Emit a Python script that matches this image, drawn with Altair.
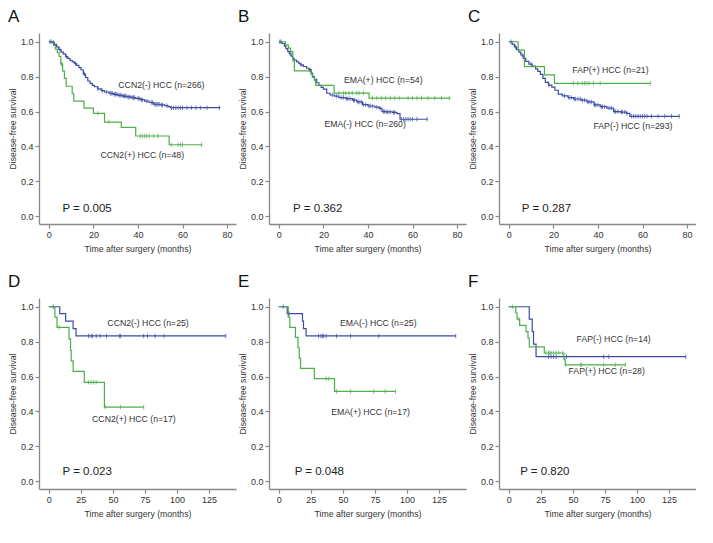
import altair as alt
import pandas as pd

BLUE = "#3B4CA5"
GREEN = "#4DAE4A"
FONT = "Liberation Sans"

# ---------------- Panel A: CCN2 (cohort 1) ----------------
A_neg_t = [0, 1.5, 2.5, 3.5, 4.5, 5.5, 6.5, 7.5, 8.5, 9.5, 10.5, 11.5, 12.5, 13.5, 14.5, 15.5, 16.5, 17.5, 18.5,
           19.5, 20.5, 22, 23.5, 25, 27, 29, 31, 33, 35, 37, 39, 41, 43, 45, 47, 50, 52, 53.5, 54.5, 77]
A_neg_s = [1.0, 0.996, 0.985, 0.97, 0.955, 0.94, 0.93, 0.915, 0.905, 0.893, 0.885, 0.875, 0.865, 0.852, 0.838,
           0.815, 0.795, 0.775, 0.762, 0.75, 0.742, 0.73, 0.72, 0.712, 0.705, 0.699, 0.693, 0.689, 0.684, 0.68,
           0.675, 0.668, 0.66, 0.652, 0.642, 0.638, 0.634, 0.628, 0.622, 0.622]
A_neg_c = [0.5, 1, 2, 5, 8, 12, 16, 22, 24, 26, 27.5, 28, 28.5, 29.5, 30, 30.5, 31.5, 32, 32.5, 33.5, 34, 34.5,
           35.5, 36, 36.5, 37.5, 38, 38.5, 40, 40.5, 41.5, 42, 44, 46, 46.5, 47.5, 48, 48.5, 49, 49.5, 50.5, 51,
           53, 55, 56, 57, 58, 59, 60, 62, 64, 66, 68, 71, 76.5]
A_pos_t = [0, 2.2, 3, 3.8, 4.6, 5.4, 6.2, 7, 7.8, 10.5, 11.2, 15.8, 20, 25, 32.5, 39, 54, 69]
A_pos_s = [1.0, 0.979, 0.958, 0.937, 0.916, 0.874, 0.832, 0.79, 0.745, 0.702, 0.66, 0.62, 0.59, 0.54, 0.51,
           0.46, 0.41, 0.41]
A_pos_c = [5.5, 5.8, 22, 27, 41, 42, 43, 44, 45, 47, 49, 55, 58, 59, 60, 68.5]

# ---------------- Panel B: EMA (cohort 1) ----------------
B_neg_t = [0, 1.5, 2.5, 3.2, 4, 4.7, 5.5, 6.2, 6.9, 8, 9, 9.8, 11, 12.5, 13.5, 14.5, 15.2, 16, 17, 18, 19, 20,
           21.5, 23, 25, 27, 30, 33, 35, 37.5, 40, 43, 45, 46.3, 48, 51, 53, 54.4, 66.8]
B_neg_s = [1.0, 0.99, 0.975, 0.96, 0.945, 0.933, 0.918, 0.905, 0.895, 0.885, 0.875, 0.868, 0.858, 0.848, 0.84,
           0.82, 0.8, 0.785, 0.765, 0.75, 0.738, 0.728, 0.705, 0.695, 0.688, 0.68, 0.674, 0.665, 0.655, 0.64,
           0.632, 0.625, 0.618, 0.6, 0.598, 0.595, 0.588, 0.556, 0.556]
B_neg_c = [0.5, 1, 5, 10, 14, 24, 26, 28, 29, 30.5, 31, 32, 33.5, 34, 35.5, 36, 37, 38, 39, 40.5, 41, 42, 44,
           45.5, 47, 47.5, 48.5, 49, 50, 51.5, 52, 55, 56, 57, 58, 59, 60, 62, 66.5]
B_pos_t = [0, 3, 4.3, 5.3, 6.3, 7, 14.5, 15, 16, 16.5, 24.8, 40.5, 77]
B_pos_s = [1.0, 0.981, 0.963, 0.944, 0.89, 0.833, 0.815, 0.796, 0.778, 0.75, 0.706, 0.677, 0.677]
B_pos_c = [27, 29, 30, 31.5, 33, 35, 36, 38, 42, 44, 46, 48, 50, 52, 54, 58, 60, 62, 64, 67, 70, 73, 76.5]

# ---------------- Panel C: FAP (cohort 1) ----------------
C_neg_t = [0, 1.5, 2.5, 3.5, 4.5, 5.4, 6.5, 7.6, 9, 10.5, 12, 13, 14.2, 15.3, 16.4, 17.8, 19.3, 20.7, 22.2, 24,
           26.6, 29, 32.4, 35, 38.2, 41, 44, 47, 50, 52.8, 54.3, 76.6]
C_neg_s = [1.0, 0.985, 0.97, 0.955, 0.94, 0.924, 0.905, 0.887, 0.872, 0.86, 0.845, 0.83, 0.813, 0.79, 0.767,
           0.752, 0.74, 0.722, 0.7, 0.69, 0.68, 0.672, 0.665, 0.655, 0.638, 0.628, 0.62, 0.6, 0.597, 0.59, 0.573,
           0.573]
C_neg_c = [1, 3, 6, 10, 18, 25, 27, 28, 29.5, 30, 31, 32, 33, 34, 35.5, 36, 37, 38.5, 39, 40, 41.5, 42, 43, 45,
           46, 47.5, 48, 49, 50.5, 51, 52, 53, 55, 56, 57, 58, 59, 60, 61, 62, 64, 67, 70, 73, 76.5]
C_pos_t = [0, 4.2, 7, 16, 20.5, 63.5]
C_pos_s = [1.0, 0.952, 0.857, 0.81, 0.762, 0.762]
C_pos_c = [29, 31, 33, 34, 35, 36, 38, 41, 63.5]

# ---------------- Panel D: CCN2 (cohort 2) ----------------
D_neg_t = [0, 8.6, 13.2, 19, 21.3, 138]
D_neg_s = [1.0, 0.96, 0.917, 0.875, 0.833, 0.833]
D_neg_c = [3.5, 31, 33, 34, 37, 40, 45, 55, 56, 74, 77, 83, 90, 138]
D_pos_t = [0, 4.8, 6.4, 15.8, 17, 17.5, 19, 27.7, 43.4, 74]
D_pos_s = [1.0, 0.941, 0.882, 0.816, 0.75, 0.69, 0.63, 0.567, 0.425, 0.425]
D_pos_c = [8, 31, 33, 35, 37, 44, 56, 74]

# ---------------- Panel E: EMA (cohort 2) ----------------
E_neg_t = [0, 6.6, 18.5, 19.3, 21.3, 138]
E_neg_s = [1.0, 0.96, 0.917, 0.875, 0.833, 0.833]
E_neg_c = [3.5, 8, 31, 33, 34, 35, 37, 45, 56, 78, 138]
E_pos_t = [0, 7.4, 8.6, 13, 15, 16, 17, 27.7, 43.5, 91]
E_pos_s = [1.0, 0.941, 0.882, 0.824, 0.765, 0.706, 0.647, 0.588, 0.515, 0.515]
E_pos_c = [37, 39, 45, 56, 74, 83, 91]

# ---------------- Panel F: FAP (cohort 2) ----------------
F_neg_t = [0, 16, 18.3, 19.3, 21.3, 138]
F_neg_s = [1.0, 0.929, 0.857, 0.786, 0.714, 0.714]
F_neg_c = [31, 33, 35, 37, 45, 74, 78, 138]
F_pos_t = [0, 5.5, 6.5, 8.5, 13.5, 15, 16, 27.7, 43, 44, 91]
F_pos_s = [1.0, 0.964, 0.929, 0.893, 0.857, 0.821, 0.77, 0.735, 0.7, 0.667, 0.667]
F_pos_c = [3, 8, 29, 31, 32, 33, 35, 37, 39, 42, 44.5, 56, 57, 74, 83, 91]

letters = ["A", "B", "C", "D", "E", "F"]
neg_labels = ["CCN2(-) HCC (n=266)", "EMA(-) HCC (n=260)", "FAP(-) HCC (n=293)",
              "CCN2(-) HCC (n=25)", "EMA(-) HCC (n=25)", "FAP(-) HCC (n=14)"]
pos_labels = ["CCN2(+) HCC (n=48)", "EMA(+) HCC (n=54)", "FAP(+) HCC (n=21)",
              "CCN2(+) HCC (n=17)", "EMA(+) HCC (n=17)", "FAP(+) HCC (n=28)"]
p_values = ["P = 0.005", "P = 0.362", "P = 0.287", "P = 0.023", "P = 0.048", "P = 0.820"]
# label anchors (left edge, vertical centre) in data units
neg_label_pos = [(31.2, 0.752), (20.5, 0.528), (38.0, 0.515), (45.7, 0.908), (47.8, 0.904), (52.9, 0.814)]
pos_label_pos = [(23.2, 0.351), (29.2, 0.78), (28.5, 0.837), (33.8, 0.359), (40.9, 0.398), (46.6, 0.632)]
p_pos = [(6.1, 0.042), (6.4, 0.042), (5.8, 0.042), (10.7, 0.055), (12.4, 0.055), (8.9, 0.052)]

x_ticks_short = [0, 20, 40, 60, 80]
x_ticks_long = [0, 25, 50, 75, 100, 125]
y_ticks = [0.0, 0.2, 0.4, 0.6, 0.8, 1.0]

curves = [
    (A_neg_t, A_neg_s, A_neg_c, A_pos_t, A_pos_s, A_pos_c),
    (B_neg_t, B_neg_s, B_neg_c, B_pos_t, B_pos_s, B_pos_c),
    (C_neg_t, C_neg_s, C_neg_c, C_pos_t, C_pos_s, C_pos_c),
    (D_neg_t, D_neg_s, D_neg_c, D_pos_t, D_pos_s, D_pos_c),
    (E_neg_t, E_neg_s, E_neg_c, E_pos_t, E_pos_s, E_pos_c),
    (F_neg_t, F_neg_s, F_neg_c, F_pos_t, F_pos_s, F_pos_c),
]

W, H = 197, 191


def step_value(ts, ss, t):
    v = ss[0]
    for ti, si in zip(ts, ss):
        if ti <= t:
            v = si
    return v


def make_panel(i):
    nt, ns, nc, pt, ps, pc = curves[i]
    long = i >= 3
    xdom = [-7.6, 146] if long else [-4.4, 84]
    xvals = x_ticks_long if long else x_ticks_short

    line_rows = [{"t": t, "s": s, "g": "neg"} for t, s in zip(nt, ns)]
    line_rows += [{"t": t, "s": s, "g": "pos"} for t, s in zip(pt, ps)]
    cens_rows = [{"t": c, "s": step_value(nt, ns, c), "g": "neg"} for c in nc]
    cens_rows += [{"t": c, "s": step_value(pt, ps, c), "g": "pos"} for c in pc]
    lab_rows = [
        {"t": neg_label_pos[i][0], "s": neg_label_pos[i][1], "label": neg_labels[i]},
        {"t": pos_label_pos[i][0], "s": pos_label_pos[i][1], "label": pos_labels[i]},
    ]
    p_rows = [{"t": p_pos[i][0], "s": p_pos[i][1], "label": p_values[i]}]

    x = alt.X("t:Q", scale=alt.Scale(domain=xdom, nice=False, zero=False),
              axis=alt.Axis(values=xvals, title="Time after surgery (months)", format="d",
                            labelOverlap=False))
    y = alt.Y("s:Q", scale=alt.Scale(domain=[-0.044, 1.05], nice=False, zero=False),
              axis=alt.Axis(values=y_ticks, format=".1f", title="Disease-free survival",
                            labelOverlap=False))
    color = alt.Color("g:N", scale=alt.Scale(domain=["neg", "pos"], range=[BLUE, GREEN]), legend=None)

    lines = alt.Chart(pd.DataFrame(line_rows)).mark_line(
        interpolate="step-after", strokeWidth=1.2).encode(x=x, y=y, color=color, detail="g:N")
    ticks = alt.Chart(pd.DataFrame(cens_rows)).mark_tick(
        orient="vertical", size=4.5, thickness=1).encode(x=x, y=y, color=color)
    labels = alt.Chart(pd.DataFrame(lab_rows)).mark_text(
        align="left", baseline="middle", font=FONT, fontSize=8.7, color="#333333").encode(
        x=x, y=y, text="label:N")
    ptxt = alt.Chart(pd.DataFrame(p_rows)).mark_text(
        align="left", baseline="middle", font=FONT, fontSize=11.5, color="#222222").encode(
        x=x, y=y, text="label:N")
    letter = alt.Chart(pd.DataFrame({"l": [letters[i]]})).mark_text(
        align="left", baseline="top", font=FONT, fontSize=17, color="#111111").encode(
        x=alt.value(-31), y=alt.value(-24), text="l:N")
    return alt.layer(lines, ticks, labels, ptxt, letter).properties(width=W, height=H)


chart = alt.concat(*[make_panel(i) for i in range(6)], columns=3,
                   spacing={"row": 20, "column": 2}).properties(
    padding={"left": 0, "top": 0, "right": 0, "bottom": 4}
).configure_view(strokeWidth=0).configure_axis(
    grid=False, labelOverlap=False,
    domainColor="#888888", domainWidth=1.3,
    tickColor="#888888", tickSize=4, tickWidth=1.2,
    labelFont=FONT, labelFontSize=9, labelColor="#333333", labelPadding=2,
    titleFont=FONT, titleFontSize=8.7, titleFontWeight="normal", titleColor="#333333",
).configure_axisY(titlePadding=3).configure_axisX(titlePadding=5)

chart.save("out.html", embed_options={"renderer": "svg", "actions": False})
